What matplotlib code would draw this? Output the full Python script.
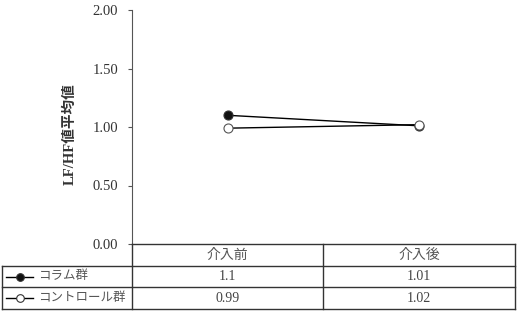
import matplotlib
matplotlib.use("Agg")
import matplotlib.pyplot as plt
from matplotlib.lines import Line2D

plt.rcParams['font.family'] = ['Liberation Serif', 'Noto Sans CJK JP']

# データ
periods = ["介入前", "介入後"]
series_names = ["コラム群", "コントロール群"]
column_vals = [1.1, 1.01]
control_vals = [0.99, 1.02]
col_labels = ["1.1", "1.01"]
ctl_labels = ["0.99", "1.02"]
yticks = [0.0, 0.5, 1.0, 1.5, 2.0]

W, H = 519, 311
fig = plt.figure(figsize=(W / 100, H / 100), dpi=100)

# 座標（ピクセル）
x0, x1, xr = 132, 323, 515
y_top, y_base = 10, 244
row_y = [244, 266, 287, 309]
tab_left = 2

def fx(px):
    return px / W

def fy(py):
    return 1 - py / H

ax = fig.add_axes([fx(x0), fy(y_base), fx(xr) - fx(x0), fy(y_top) - fy(y_base)])
ax.set_xlim(0, 2)
ax.set_ylim(0, 2)
xs = [0.5, 1.5]
ax.plot(xs, column_vals, color='black', lw=1.0, marker='o', ms=6.5,
        mfc='#111111', mec='#333333', mew=0.8, zorder=3, clip_on=False)
ax.plot(xs, control_vals, color='black', lw=1.0, marker='o', ms=6.5,
        mfc='white', mec='#555555', mew=0.8, zorder=3, clip_on=False)

ax.set_yticks(yticks)
ax.set_yticklabels([f"{v:.2f}" for v in yticks], fontsize=10.5, color='#333333')
ax.set_xticks([])
ax.tick_params(axis='y', direction='out', length=3, width=0.8, colors='#555555',
               labelcolor='#333333', pad=7)
for s in ['top', 'right', 'bottom']:
    ax.spines[s].set_visible(False)
ax.spines['left'].set_color('#555555')
ax.spines['left'].set_linewidth(0.8)
ax.set_ylabel("LF/HF値平均値", fontsize=10.5, fontweight='bold', color='#333333')
ax.yaxis.set_label_coords(-0.144, 0.468)

# 表
lc = '#333333'
def hline(py, xa, xb):
    fig.add_artist(Line2D([fx(xa), fx(xb)], [fy(py), fy(py)], color=lc, lw=1.0))

def vline(px, ya, yb):
    fig.add_artist(Line2D([fx(px), fx(px)], [fy(ya), fy(yb)], color=lc, lw=1.0))

hline(row_y[0], x0, xr)
for py in row_y[1:]:
    hline(py, tab_left, xr)
vline(x0, row_y[0], row_y[3])
vline(x1, row_y[0], row_y[3])
vline(xr, row_y[0], row_y[3])
vline(tab_left, row_y[1], row_y[3])

cx = [(x0 + x1) / 2, (x1 + xr) / 2]
tc = '#444444'
for i, p in enumerate(periods):
    fig.text(fx(cx[i]), fy((row_y[0] + row_y[1]) / 2), p, ha='center', va='center',
             fontsize=10, color='#555555')
rows = [(series_names[0], col_labels, '#111111'), (series_names[1], ctl_labels, 'white')]
for r, (name, labels, fc) in enumerate(rows):
    ymid = (row_y[r + 1] + row_y[r + 2]) / 2
    fig.add_artist(Line2D([fx(6), fx(33)], [fy(ymid), fy(ymid)], color='black', lw=1.0,
                          zorder=3))
    fig.add_artist(Line2D([fx(19.5)], [fy(ymid)], color='black', marker='o', ms=5.5,
                          mfc=fc, mec='#333333', mew=0.8, lw=0, zorder=4))
    fig.text(fx(38), fy(ymid), name, ha='left', va='center', fontsize=9,
             color='#555555')
    for i, lab in enumerate(labels):
        fig.text(fx(cx[i]), fy(ymid), lab, ha='center', va='center', fontsize=10, color=tc)

fig.savefig("out.png", dpi=100)
